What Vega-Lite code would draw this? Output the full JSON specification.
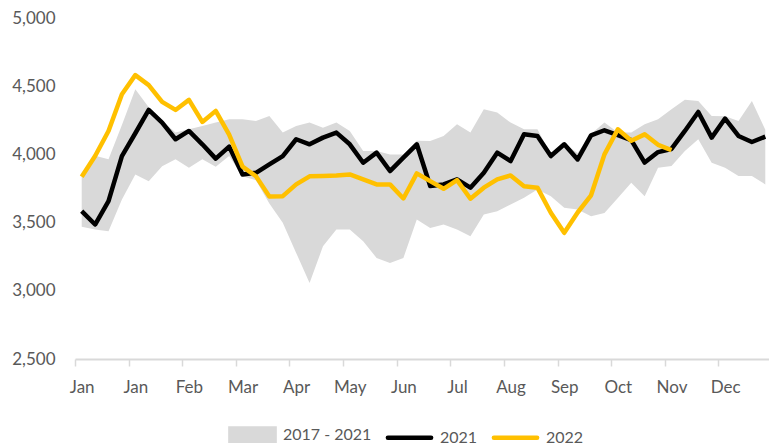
{
  "$schema": "https://vega.github.io/schema/vega-lite/v6.json",
  "autosize": "none",
  "width": 697,
  "height": 341,
  "padding": {"left": 75, "top": 18, "right": 0, "bottom": 87},
  "background": "#ffffff",
  "config": {
    "view": {"stroke": null},
    "font": "Lato",
    "axis": {"labelFont": "Lato", "labelColor": "#595959", "labelFontSize": 17},
    "legend": {
      "orient": "none", "legendX": 151, "legendY": 390, "direction": "horizontal",
      "title": null, "labelFont": "Lato", "labelFontSize": 16, "labelColor": "#595959",
      "symbolSize": 2304, "labelOffset": 4, "columnPadding": 6
    }
  },
  "datasets": {
    "band": [
      {"week":1,"lo":3470,"hi":3865},{"week":2,"lo":3450,"hi":3990},{"week":3,"lo":3437,"hi":3964},{"week":4,"lo":3670,"hi":4215},
      {"week":5,"lo":3853,"hi":4478},{"week":6,"lo":3804,"hi":4345},{"week":7,"lo":3914,"hi":4245},{"week":8,"lo":3964,"hi":4160},
      {"week":9,"lo":3903,"hi":4184},{"week":10,"lo":3964,"hi":4208},{"week":11,"lo":3910,"hi":4233},{"week":12,"lo":3988,"hi":4258},
      {"week":13,"lo":3840,"hi":4258},{"week":14,"lo":3810,"hi":4245},{"week":15,"lo":3640,"hi":4282},{"week":16,"lo":3498,"hi":4160},
      {"week":17,"lo":3278,"hi":4208},{"week":18,"lo":3057,"hi":4233},{"week":19,"lo":3326,"hi":4196},{"week":20,"lo":3449,"hi":4233},
      {"week":21,"lo":3449,"hi":4172},{"week":22,"lo":3363,"hi":4025},{"week":23,"lo":3241,"hi":4025},{"week":24,"lo":3204,"hi":4000},
      {"week":25,"lo":3241,"hi":4000},{"week":26,"lo":3523,"hi":4100},{"week":27,"lo":3461,"hi":4098},{"week":28,"lo":3486,"hi":4135},
      {"week":29,"lo":3449,"hi":4221},{"week":30,"lo":3400,"hi":4160},{"week":31,"lo":3560,"hi":4331},{"week":32,"lo":3584,"hi":4307},
      {"week":33,"lo":3633,"hi":4233},{"week":34,"lo":3682,"hi":4184},{"week":35,"lo":3743,"hi":4184},{"week":36,"lo":3694,"hi":4000},
      {"week":37,"lo":3608,"hi":4080},{"week":38,"lo":3596,"hi":4010},{"week":39,"lo":3547,"hi":4150},{"week":40,"lo":3570,"hi":4233},
      {"week":41,"lo":3680,"hi":4160},{"week":42,"lo":3792,"hi":4160},{"week":43,"lo":3694,"hi":4221},{"week":44,"lo":3903,"hi":4258},
      {"week":45,"lo":3915,"hi":4331},{"week":46,"lo":4025,"hi":4400},{"week":47,"lo":4111,"hi":4392},{"week":48,"lo":3939,"hi":4282},
      {"week":49,"lo":3903,"hi":4280},{"week":50,"lo":3841,"hi":4245},{"week":51,"lo":3841,"hi":4392},{"week":52,"lo":3780,"hi":4180}
    ],
    "lines": [
      {"week":1,"series":"2021","value":3584},{"week":2,"series":"2021","value":3486},{"week":3,"series":"2021","value":3657},{"week":4,"series":"2021","value":3988},
      {"week":5,"series":"2021","value":4155},{"week":6,"series":"2021","value":4326},{"week":7,"series":"2021","value":4233},{"week":8,"series":"2021","value":4111},
      {"week":9,"series":"2021","value":4172},{"week":10,"series":"2021","value":4074},{"week":11,"series":"2021","value":3969},{"week":12,"series":"2021","value":4057},
      {"week":13,"series":"2021","value":3853},{"week":14,"series":"2021","value":3865},{"week":15,"series":"2021","value":3927},{"week":16,"series":"2021","value":3988},
      {"week":17,"series":"2021","value":4111},{"week":18,"series":"2021","value":4074},{"week":19,"series":"2021","value":4123},{"week":20,"series":"2021","value":4160},
      {"week":21,"series":"2021","value":4074},{"week":22,"series":"2021","value":3939},{"week":23,"series":"2021","value":4013},{"week":24,"series":"2021","value":3878},
      {"week":25,"series":"2021","value":3976},{"week":26,"series":"2021","value":4074},{"week":27,"series":"2021","value":3768},{"week":28,"series":"2021","value":3780},
      {"week":29,"series":"2021","value":3817},{"week":30,"series":"2021","value":3756},{"week":31,"series":"2021","value":3866},{"week":32,"series":"2021","value":4013},
      {"week":33,"series":"2021","value":3951},{"week":34,"series":"2021","value":4147},{"week":35,"series":"2021","value":4135},{"week":36,"series":"2021","value":3988},
      {"week":37,"series":"2021","value":4074},{"week":38,"series":"2021","value":3963},{"week":39,"series":"2021","value":4140},{"week":40,"series":"2021","value":4177},
      {"week":41,"series":"2021","value":4142},{"week":42,"series":"2021","value":4105},{"week":43,"series":"2021","value":3940},{"week":44,"series":"2021","value":4017},
      {"week":45,"series":"2021","value":4040},{"week":46,"series":"2021","value":4172},{"week":47,"series":"2021","value":4311},{"week":48,"series":"2021","value":4123},
      {"week":49,"series":"2021","value":4263},{"week":50,"series":"2021","value":4135},{"week":51,"series":"2021","value":4091},{"week":52,"series":"2021","value":4130},
      {"week":1,"series":"2022","value":3836},{"week":2,"series":"2022","value":3988},{"week":3,"series":"2022","value":4172},{"week":4,"series":"2022","value":4441},
      {"week":5,"series":"2022","value":4581},{"week":6,"series":"2022","value":4508},{"week":7,"series":"2022","value":4385},{"week":8,"series":"2022","value":4326},
      {"week":9,"series":"2022","value":4400},{"week":10,"series":"2022","value":4238},{"week":11,"series":"2022","value":4319},{"week":12,"series":"2022","value":4145},
      {"week":13,"series":"2022","value":3910},{"week":14,"series":"2022","value":3840},{"week":15,"series":"2022","value":3692},{"week":16,"series":"2022","value":3694},
      {"week":17,"series":"2022","value":3780},{"week":18,"series":"2022","value":3839},{"week":19,"series":"2022","value":3842},{"week":20,"series":"2022","value":3846},
      {"week":21,"series":"2022","value":3853},{"week":22,"series":"2022","value":3817},{"week":23,"series":"2022","value":3780},{"week":24,"series":"2022","value":3780},
      {"week":25,"series":"2022","value":3677},{"week":26,"series":"2022","value":3861},{"week":27,"series":"2022","value":3804},{"week":28,"series":"2022","value":3748},
      {"week":29,"series":"2022","value":3811},{"week":30,"series":"2022","value":3675},{"week":31,"series":"2022","value":3756},{"week":32,"series":"2022","value":3817},
      {"week":33,"series":"2022","value":3846},{"week":34,"series":"2022","value":3767},{"week":35,"series":"2022","value":3756},{"week":36,"series":"2022","value":3572},
      {"week":37,"series":"2022","value":3425},{"week":38,"series":"2022","value":3574},{"week":39,"series":"2022","value":3700},{"week":40,"series":"2022","value":4000},
      {"week":41,"series":"2022","value":4184},{"week":42,"series":"2022","value":4100},{"week":43,"series":"2022","value":4147},{"week":44,"series":"2022","value":4070},
      {"week":45,"series":"2022","value":4032}
    ]
  },
  "layer": [
    {
      "data": {"name": "band"},
      "mark": {"type": "area", "color": "#d9d9d9", "opacity": 1},
      "encoding": {
        "x": {
          "field": "week", "type": "quantitative",
          "scale": {"domain": [0.5, 52.5], "nice": false, "zero": false},
          "axis": {
            "title": null, "grid": false,
            "values": [0.5, 4.5, 8.5, 12.5, 16.5, 20.5, 24.5, 28.5, 32.5, 36.5, 40.5, 44.5, 48.5, 52.5],
            "labelExpr": "['Jan','Jan','Feb','Mar','Apr','May','Jun','Jul','Aug','Sep','Oct','Nov','Dec',''][round((datum.value - 0.5) / 4)]",
            "labelOffset": 6.7, "labelFlush": false, "labelOverlap": false, "labelPadding": 13,
            "domainColor": "#d9d9d9", "domainWidth": 2, "tickColor": "#d9d9d9", "tickWidth": 1.5, "tickSize": 7
          }
        },
        "y": {
          "field": "lo", "type": "quantitative",
          "scale": {"domain": [2500, 5000], "nice": false, "zero": false},
          "axis": {
            "title": null, "grid": false, "domain": false, "ticks": false,
            "values": [2500, 3000, 3500, 4000, 4500, 5000], "format": ",.0f",
            "labelPadding": 20
          }
        },
        "y2": {"field": "hi"},
        "color": {
          "datum": "2017 - 2021",
          "scale": {"domain": ["2017 - 2021", "2021", "2022"], "range": ["#d9d9d9", "#000000", "#ffc000"]},
          "legend": {
            "title": null,
            "encode": {
              "symbols": {
                "update": {
                  "shape": {"signal": "datum.value === '2017 - 2021' ? 'M-0.92,-0.26H0.92V0.26H-0.92Z' : 'M-0.9,0H0.9'"},
                  "fill": {"signal": "datum.value === '2017 - 2021' ? '#d9d9d9' : 'transparent'"},
                  "stroke": {"signal": "datum.value === '2017 - 2021' ? 'transparent' : (datum.value === '2021' ? '#000000' : '#ffc000')"},
                  "strokeWidth": {"value": 4.5},
                  "strokeCap": {"value": "round"},
                  "opacity": {"value": 1}
                }
              }
            }
          }
        }
      }
    },
    {
      "data": {"name": "lines"},
      "mark": {"type": "line", "strokeWidth": 4.5, "strokeJoin": "round"},
      "encoding": {
        "x": {"field": "week", "type": "quantitative"},
        "y": {"field": "value", "type": "quantitative"},
        "color": {
          "field": "series", "type": "nominal",
          "legend": {
            "title": null,
            "encode": {
              "symbols": {
                "update": {
                  "shape": {"signal": "datum.value === '2017 - 2021' ? 'M-0.92,-0.26H0.92V0.26H-0.92Z' : 'M-0.9,0H0.9'"},
                  "fill": {"signal": "datum.value === '2017 - 2021' ? '#d9d9d9' : 'transparent'"},
                  "stroke": {"signal": "datum.value === '2017 - 2021' ? 'transparent' : (datum.value === '2021' ? '#000000' : '#ffc000')"},
                  "strokeWidth": {"value": 4.5},
                  "strokeCap": {"value": "round"},
                  "opacity": {"value": 1}
                }
              }
            }
          }
        },
        "order": {"field": "week"}
      }
    }
  ]
}
